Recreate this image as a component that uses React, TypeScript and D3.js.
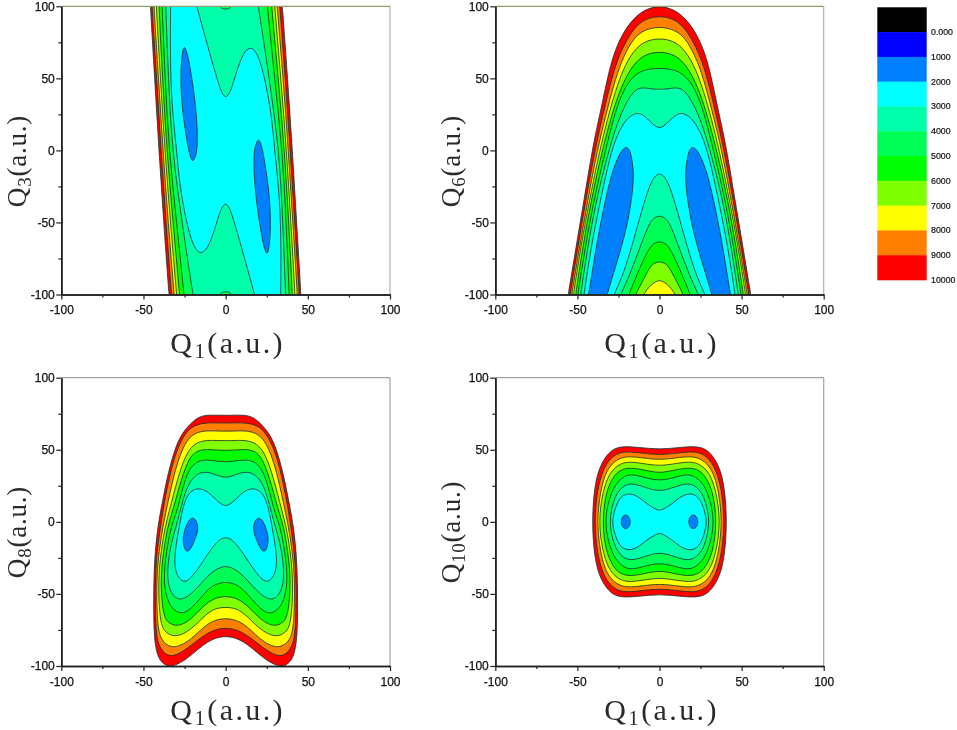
import React, { useEffect, useRef } from 'react';
import * as d3 from 'd3';

type Pt = [number, number];

const majorTicks = [-100, -50, 0, 50, 100];
const minorTicks = [-75, -25, 25, 75];

const legendLabels = ['0.000', '1000', '2000', '3000', '4000', '5000', '6000', '7000', '8000', '9000', '10000'];
const legendColors = ['#000000', '#0000ff', '#0080ff', '#00ffff', '#00ffaa', '#00ff55', '#00ff00', '#80ff00', '#ffff00', '#ff8000', '#ff0000'];

const RED = '#ff0000';
const ORANGE = '#ff8000';
const YELLOW = '#ffff00';
const LIME = '#80ff00';
const GREEN = '#00ff00';
const SPRING = '#00ff55';
const AQUA = '#00ffaa';
const CYAN = '#00ffff';
const BLUE = '#0080ff';

const bandColors = [RED, ORANGE, YELLOW, LIME, GREEN, SPRING, AQUA];

// Q3 panel: right-hand edge of each band, left side is the same line turned through the origin
const q3Bands: Pt[][] = [
  [[33.5, 115], [34.5, 100], [37.7, 50], [40.6, 0], [43.2, -50], [45.8, -100], [46.5, -115]],
  [[32, 115], [32.9, 100], [36.3, 50], [39.3, 0], [42, -50], [44.8, -100], [45.5, -115]],
  [[30.4, 115], [31.3, 100], [35, 50], [38.1, 0], [40.9, -50], [43.6, -100], [44.3, -115]],
  [[29, 115], [29.8, 100], [33.6, 50], [37, 0], [39.7, -50], [42.2, -100], [42.8, -115]],
  [[27, 115], [28, 100], [32, 50], [35.8, 0], [38.4, -50], [40.6, -100], [41, -115]],
  [[24, 115], [25.4, 100], [29.8, 50], [34.5, 0], [36.8, -50], [38.7, -100], [39, -115]],
  [[17.5, 115], [20, 100], [26.5, 50], [32.6, 0], [34.8, -50], [36.5, -100], [36.8, -115]],
];
const q3Cyan: Pt[] = [
  [-21, 115], [-17.6, 100], [-12.5, 79], [-7.4, 58], [-3.4, 43], [-1.8, 38.8], [0, 36.6], [1.8, 38.8], [3.7, 43], [7.8, 59.3], [11.8, 69.7],
  [15.9, 72], [19.9, 66.2], [24, 49.5], [28, 24], [29.8, 0], [33.1, -34.5], [33.7, -69], [33.5, -100], [33.3, -115],
];
const q3Blue: Pt[] = [
  [20.1, 8.2], [21.3, 5], [22.5, 0.2], [24.6, -13.7], [27, -34.5], [27.4, -55], [26.5, -67], [25.4, -72.5], [24, -70], [21.9, -60], [18.5, -34.5], [17.1, -13.7], [17.3, 0.2], [18.6, 5],
];
const q3Cap: Pt[] = [[-4, 100], [-2, 98], [2, 98], [4, 100], [0, 104]];

// Q6 panel: right half of each closed band
const q6Bands: Pt[][] = [
  [[0, 100.5], [8.5, 98], [14.6, 92.8], [20.7, 84.7], [26.8, 70.8], [30.9, 54.6], [34.9, 32.6], [38, 16.4], [41, 0], [46, -34.5], [50.8, -67], [55.6, -100], [57, -110]],
  [[0, 93.8], [11.6, 90.5], [19.7, 77.8], [26.8, 60.4], [32.9, 32.6], [39.4, 0], [44.9, -34.5], [50, -69], [54.4, -100], [55.8, -110]],
  [[0, 86.4], [11.6, 83.1], [18.7, 73.1], [25.8, 54.6], [31.9, 28], [38, 0], [43.6, -34.5], [49, -69], [53.4, -100], [54.8, -110]],
  [[0, 78.2], [10.5, 75.5], [17.7, 66.2], [23.7, 52.3], [29.8, 30.3], [36.5, 0], [42.6, -34.5], [48.3, -69], [52.4, -100], [53.8, -110]],
  [[0, 69], [10.5, 66.2], [17.7, 56.9], [23.7, 43], [28.8, 25.7], [34.9, 0], [41.6, -34.5], [47, -69], [51, -100], [52.4, -110]],
  [[0, 57.4], [12.6, 55.8], [20.7, 45.4], [26.8, 28], [32.9, 0], [40, -34.5], [45.5, -69], [49.7, -100], [51, -110]],
  [[0, 42.3], [5, 42.6], [10, 43.8], [15, 42.4], [20.7, 32.6], [25.8, 18.7], [30.9, 0], [38.6, -34.5], [44, -69], [48, -100], [49.3, -110]],
];
const q6Cyan: Pt[] = [
  [0, 14.5], [4.5, 18.7], [8.5, 23.4], [12.6, 26.3], [16.6, 24.8], [20.7, 21], [24.8, 13], [29.4, 0], [36, -34.5], [42, -69], [46, -100], [47.3, -110],
];
const q6Blue: Pt[] = [
  [19.7, 2.5], [17.7, -0.5], [16, -11.4], [15.8, -23], [17.7, -39], [20.7, -57.7], [26.8, -80.8], [31.9, -100], [34.5, -110],
  [45, -110], [43, -99.8], [39, -69.3], [33.9, -39.2], [28.8, -13.7], [23.5, -0.5], [21.5, 1.5],
];
const q6Tower: Pt[][] = [
  [[0, -16], [2.5, -17.5], [4.5, -20.6], [8.5, -32.2], [14.6, -57.7], [21.7, -85.4], [27.8, -100], [31, -110]],
  [[0, -45.2], [3.5, -46.8], [6.5, -51], [12.6, -69.5], [18.7, -88], [23.7, -100], [27, -110]],
  [[0, -63], [3.5, -64.5], [6.5, -68], [12.6, -83], [18.7, -100], [22, -110]],
  [[0, -77], [3, -78.2], [5.5, -80], [10.5, -91.2], [14.6, -100], [18, -110]],
  [[0, -90], [2.5, -91.2], [5.5, -93.5], [10, -100], [14, -110]],
];

// Q8 panel: right half of each closed band
const q8Bands: Pt[][] = [
  [[0, 73.7], [11.8, 74.4], [17.9, 72.2], [25, 63.9], [30, 54.4], [35.1, 33.6], [38.1, 16.3], [41.2, -2.3], [42.9, -20], [43.8, -41], [43.8, -71.6], [43, -85], [41, -95], [37, -99.5], [33, -100.5], [28, -98], [23, -94.7], [10.7, -82], [0, -78.5]],
  [[0, 68.3], [12.8, 69.1], [20.9, 66.2], [26, 59], [31, 46.3], [35.1, 26.7], [38.1, 8.2], [39.5, -2.3], [41.7, -20], [43, -41], [42.6, -75], [41, -85], [37.5, -91.5], [32, -94], [23, -87.8], [10.7, -76], [0, -72.7]],
  [[0, 62.6], [12.8, 63.6], [19.9, 61.1], [25, 54.4], [30, 39.4], [34, 19.7], [38.1, -2.3], [40.5, -20], [42.2, -41], [41.6, -72], [39.5, -81], [36, -85.5], [30.6, -87.8], [20.9, -82], [10.7, -69.3], [0, -66.2]],
  [[0, 56], [11.8, 57], [18.9, 54.6], [24, 47.5], [29, 31.3], [33, 12.8], [36.7, -2.3], [39.3, -20], [41.2, -41], [40, -71.6], [36, -77.5], [30, -80.2], [20.9, -75], [10.7, -62.4], [4.7, -59.6], [0, -59.3]],
  [[0, 49.2], [9.8, 50.4], [17.9, 49.8], [23, 42.9], [28, 25.5], [32, 8.2], [35.1, -2.3], [37.8, -20], [39.8, -41], [38, -65.8], [34.5, -70.5], [29, -72.8], [20.9, -68], [10.7, -54.2], [0, -50.8]],
  [[0, 41], [9.8, 43.1], [16.9, 42.8], [23, 35.9], [27, 19.7], [30, 5.8], [33, -2.3], [36, -20], [38.1, -41.5], [35, -57.7], [28, -64.8], [20.9, -61], [10.7, -46], [4.7, -42.7], [0, -41.7]],
  [[0, 29.6], [7.7, 33.8], [14.8, 35.2], [20.9, 30.1], [25, 19.7], [28, 5.8], [30, -2.3], [34, -18.4], [36.1, -39], [33, -50.7], [28, -54.9], [20.9, -50.7], [10.7, -37], [4.7, -32], [0, -30.6]],
];
const q8Cyan: Pt[] = [
  [0, 9.5], [5.7, 15.1], [11.8, 22.2], [17.9, 23.6], [23, 19.7], [26, 10.5], [28, -2.3], [31, -20.7], [31.2, -34.6], [26, -43],
  [20.9, -39.2], [13.8, -27.6], [6.7, -15], [0, -9],
];
const q8Blue: Pt[] = [[20, 3.4], [22.6, 1], [24.8, -5], [26.2, -12], [25.2, -18.5], [23.3, -21.3], [20.8, -18], [18.2, -11], [16.6, -5], [17.6, 0.6]];

// Q10 panel: one quadrant of each closed band, top centre round to the Q1 axis
const q10Bands: Pt[][] = [
  [[0, 50.1], [12.6, 51.7], [23.7, 52.6], [29.8, 49.6], [34.9, 41.8], [38, 32.5], [40, 19.8], [41, 0]],
  [[0, 46.2], [12.6, 48], [22.7, 49], [28.8, 45.4], [32.9, 39.4], [36.5, 29], [38.6, 15], [39.4, 0]],
  [[0, 42.7], [12.6, 44.8], [21.7, 45.6], [27.8, 41.8], [31.9, 36], [34.9, 26.7], [37, 12.8], [37.8, 0]],
  [[0, 38.6], [10.5, 40.6], [20.7, 42.1], [26.8, 38.3], [30.9, 32.5], [33.9, 23.2], [36, 10.5], [36.5, 0]],
  [[0, 33.4], [10.5, 36.4], [19.7, 37.9], [25.8, 34.8], [29.8, 27.9], [32.9, 18.6], [34.9, 0]],
  [[0, 28], [10.5, 31.3], [18.7, 33.6], [24.8, 29], [28.8, 22], [31.9, 10.5], [32.9, 0]],
  [[0, 20.5], [9.5, 24.4], [17.7, 27.1], [22.7, 24.4], [26.8, 18.6], [29.4, 8.2], [30.2, 0]],
];
const q10Cyan: Pt[] = [[0, 7.6], [3, 9.2], [7.5, 12.3], [12, 16.8], [16.6, 19.5], [21.7, 19.4], [25.8, 14], [27.8, 5.9], [28.8, 0]];
const q10Blue: Pt[] = [[20.6, 5.2], [22.8, 3.6], [23.6, 0], [22.8, -3.6], [20.6, -5.2], [18.4, -3.6], [17.6, 0], [18.4, 3.6]];

// helpers that complete a contour read from only one side of a symmetric panel
const mirrorX = (pts: Pt[]): Pt[] => [
  ...pts,
  ...pts.filter((p) => p[0] !== 0).reverse().map((p): Pt => [-p[0], p[1]]),
];
const mirrorY = (pts: Pt[]): Pt[] => [
  ...pts,
  ...pts.filter((p) => p[1] !== 0).reverse().map((p): Pt => [p[0], -p[1]]),
];
const turn = (pts: Pt[]): Pt[] => pts.map((p): Pt => [-p[0], -p[1]]);
const flipX = (pts: Pt[]): Pt[] => pts.map((p): Pt => [-p[0], p[1]]);

interface Region {
  fill: string;
  pts: Pt[];
}

const q3Regions: Region[] = [
  ...q3Bands.map((b, i) => ({ fill: bandColors[i], pts: [...b, ...turn(b)] })),
  { fill: CYAN, pts: [...q3Cyan, ...turn(q3Cyan)] },
  { fill: BLUE, pts: q3Blue },
  { fill: BLUE, pts: turn(q3Blue) },
  { fill: SPRING, pts: q3Cap },
  { fill: SPRING, pts: turn(q3Cap) },
];
const q6TowerColors = [AQUA, SPRING, GREEN, LIME, YELLOW];
const q6Regions: Region[] = [
  ...q6Bands.map((b, i) => ({ fill: bandColors[i], pts: mirrorX(b) })),
  { fill: CYAN, pts: mirrorX(q6Cyan) },
  { fill: BLUE, pts: q6Blue },
  { fill: BLUE, pts: flipX(q6Blue) },
  ...q6Tower.map((b, i) => ({ fill: q6TowerColors[i], pts: mirrorX(b) })),
];
const q8Regions: Region[] = [
  ...q8Bands.map((b, i) => ({ fill: bandColors[i], pts: mirrorX(b) })),
  { fill: CYAN, pts: mirrorX(q8Cyan) },
  { fill: BLUE, pts: q8Blue },
  { fill: BLUE, pts: flipX(q8Blue) },
];
const q10Regions: Region[] = [
  ...q10Bands.map((b, i) => ({ fill: bandColors[i], pts: mirrorX(mirrorY(b)) })),
  { fill: CYAN, pts: mirrorX(mirrorY(q10Cyan)) },
  { fill: BLUE, pts: q10Blue },
  { fill: BLUE, pts: flipX(q10Blue) },
];

const panels = [
  { id: 'q3', sub: '3', regions: q3Regions, xr: [61.3, 390], yr: [294.5, 6.3], topC: '#8d9f6f', rightC: '#a9b5a0', titleX: 26, titleY: 161, xTitleY: 353 },
  { id: 'q6', sub: '6', regions: q6Regions, xr: [495.3, 823.7], yr: [294.5, 6.3], topC: '#8d9f6f', rightC: '#a9b5a0', titleX: 460, titleY: 161, xTitleY: 353 },
  { id: 'q8', sub: '8', regions: q8Regions, xr: [61.3, 390], yr: [666, 377.7], topC: '#a8a29e', rightC: '#a8a29e', titleX: 26, titleY: 532, xTitleY: 720 },
  { id: 'q10', sub: '10', regions: q10Regions, xr: [495.3, 823.7], yr: [666, 377.7], topC: '#a8a29e', rightC: '#a8a29e', titleX: 460, titleY: 532, xTitleY: 720 },
];

function axisTitle(sel: any, sub: string, size: number, spacing: number) {
  sel
    .attr('font-family', "'Liberation Serif', serif")
    .attr('font-size', size)
    .attr('letter-spacing', spacing)
    .attr('fill', '#2a2a2a')
    .attr('text-anchor', 'middle');
  sel.append('tspan').text('Q');
  sel.append('tspan').attr('font-size', size * 0.7).attr('dy', 5).text(sub);
  sel.append('tspan').attr('dy', -5).text('(a.u.)');
}

export default function App() {
  const svgRef = useRef<SVGSVGElement>(null);

  useEffect(() => {
    if (!svgRef.current) return;
    const root = d3.select(svgRef.current);
    root.selectAll('*').remove();

    // the source figure is a soft raster, a small blur gets the blended thin bands
    root
      .append('filter')
      .attr('id', 'soft')
      .attr('x', 0)
      .attr('y', 0)
      .attr('width', 1)
      .attr('height', 1)
      .attr('color-interpolation-filters', 'sRGB')
      .append('feGaussianBlur')
      .attr('stdDeviation', 0.45);
    const svg = root.append('g').attr('filter', 'url(#soft)');
    svg.append('rect').attr('width', 957).attr('height', 730).attr('fill', '#fff');

    panels.forEach((p) => {
      const x = d3.scaleLinear().domain([-100, 100]).range(p.xr);
      const y = d3.scaleLinear().domain([-100, 100]).range(p.yr);
      const g = svg.append('g');

      const clipId = `clip-${p.id}`;
      g.append('clipPath')
        .attr('id', clipId)
        .append('rect')
        .attr('x', p.xr[0])
        .attr('y', p.yr[1])
        .attr('width', p.xr[1] - p.xr[0])
        .attr('height', p.yr[0] - p.yr[1]);

      const contour = d3
        .line<Pt>()
        .x((d) => x(d[0]))
        .y((d) => y(d[1]))
        .curve(d3.curveBasisClosed);

      g.append('g')
        .attr('clip-path', `url(#${clipId})`)
        .selectAll('path')
        .data(p.regions)
        .enter()
        .append('path')
        .attr('d', (d) => contour(d.pts))
        .attr('fill', (d) => d.fill)
        .attr('stroke', '#14302c')
        .attr('stroke-width', 0.8);

      // top and right frame
      g.append('line').attr('x1', p.xr[0]).attr('x2', p.xr[1]).attr('y1', p.yr[1]).attr('y2', p.yr[1]).attr('stroke', p.topC).attr('stroke-width', 1.2);
      g.append('line').attr('x1', p.xr[1]).attr('x2', p.xr[1]).attr('y1', p.yr[1]).attr('y2', p.yr[0]).attr('stroke', p.rightC).attr('stroke-width', 1.2);

      // Axes
      const xAxis = g.append('g').attr('transform', `translate(0, ${p.yr[0]})`);
      xAxis.call(d3.axisBottom(x).tickValues(majorTicks).tickSize(5).tickSizeOuter(0).tickPadding(6).tickFormat((d) => String(d)));
      const xMinor = g.append('g').attr('transform', `translate(0, ${p.yr[0]})`);
      xMinor.call(d3.axisBottom(x).tickValues(minorTicks).tickSize(3).tickSizeOuter(0).tickFormat(() => ''));
      const yAxis = g.append('g').attr('transform', `translate(${p.xr[0]}, 0)`);
      yAxis.call(d3.axisLeft(y).tickValues(majorTicks).tickSize(5).tickSizeOuter(0).tickPadding(1.5).tickFormat((d) => String(d)));
      const yMinor = g.append('g').attr('transform', `translate(${p.xr[0]}, 0)`);
      yMinor.call(d3.axisLeft(y).tickValues(minorTicks).tickSize(3).tickSizeOuter(0).tickFormat(() => ''));

      [xAxis, yAxis, xMinor, yMinor].forEach((a) => {
        a.select('.domain').attr('stroke', '#222').attr('stroke-width', 1.6);
        a.selectAll('.tick line').attr('stroke', '#222').attr('stroke-width', 1.2);
        a.selectAll('text')
          .attr('fill', '#111')
          .attr('stroke', '#111')
          .attr('stroke-width', 0.25)
          .attr('font-size', 12)
          .attr('font-family', "'Liberation Sans', sans-serif");
      });

      // Titles
      const midX = (p.xr[0] + p.xr[1]) / 2 + 2;
      g.append('text').attr('x', midX).attr('y', p.xTitleY).call(axisTitle, '1', 30, 2.4);
      g.append('text')
        .attr('transform', `translate(${p.titleX}, ${p.titleY}) rotate(-90)`)
        .call(axisTitle, p.sub, 27, 0.8);
    });

    // Colour legend
    const legendY = d3.scaleBand<string>().domain(legendLabels).range([7.3, 280]);
    const legend = svg.append('g');
    legend
      .selectAll('rect')
      .data(legendLabels)
      .enter()
      .append('rect')
      .attr('x', 877.3)
      .attr('y', (d) => legendY(d)!)
      .attr('width', 49.4)
      .attr('height', legendY.bandwidth() + 0.3)
      .attr('fill', (d, i) => legendColors[i]);
    legend
      .selectAll('text')
      .data(legendLabels)
      .enter()
      .append('text')
      .attr('x', 931)
      .attr('y', (d) => legendY(d)! + legendY.bandwidth() + 3)
      .attr('font-size', 8.8)
      .attr('font-family', "'Liberation Sans', sans-serif")
      .attr('fill', '#111')
      .attr('stroke', '#111')
      .attr('stroke-width', 0.2)
      .text((d) => d);
  }, []);

  return <svg ref={svgRef} width={957} height={730} style={{ position: 'absolute', left: 0, top: 0, background: '#fff' }} />;
}
